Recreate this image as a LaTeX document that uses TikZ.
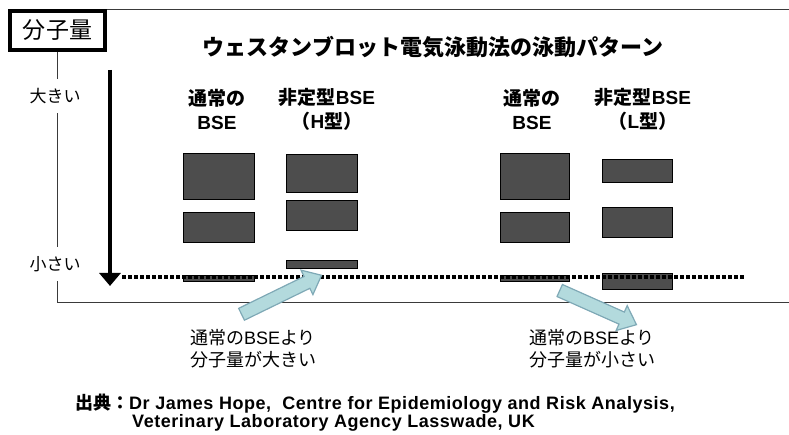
\documentclass[tikz,border=0pt]{standalone}
\usepackage{fontspec}
\setmainfont{Noto Sans CJK JP}
\newfontfamily\latinfont{Liberation Sans}
\newfontfamily\citefont[LetterSpace=3.0]{Liberation Sans}
\usetikzlibrary{arrows.meta,shapes.arrows}
\definecolor{bandgray}{HTML}{4D4D4D}
\definecolor{arrowfill}{HTML}{B3DADD}
\definecolor{arrowline}{HTML}{7FA9B6}
\definecolor{framegray}{HTML}{3A3A3A}
\begin{document}
\begin{tikzpicture}[x=1pt,y=-1pt,
  band/.style={draw=black, line width=0.8pt, fill=bandgray},
  frameline/.style={draw=framegray, line width=1pt},
  sidelabel/.style={fill=white, inner xsep=1pt, inner ysep=9pt, font=\fontsize{17}{18}\selectfont},
  header/.style={align=center, font=\bfseries\fontsize{19}{24}\selectfont},
  blockarrow/.style={single arrow, draw=arrowline, fill=arrowfill, line width=1.2pt,
    minimum width=26pt, single arrow head extend=7pt, single arrow tip angle=80, inner sep=6pt},
  note/.style={align=center, font=\fontsize{18}{22}\selectfont},
  cite/.style={anchor=west, inner sep=0pt, font=\bfseries\fontsize{18}{19}\selectfont}]
\useasboundingbox (0,0) rectangle (789,435);
% frame
\draw[frameline] (789,10) -- (57,10) -- (57,303) -- (789,303);
\node[sidelabel] (big) at (55,96) {大きい};
\node[sidelabel] (small) at (55,264) {小さい};
\node[draw=black, line width=4pt, fill=white, minimum width=95pt, minimum height=39pt,
  inner sep=0pt, font=\fontsize{23}{25}\selectfont] (mw) at (57.5,30.5) {分子量};
% title
\node[font=\bfseries\fontsize{22}{24}\selectfont] (title) at (433,47) {ウェスタンブロット電気泳動法の泳動パターン};
% vertical arrow
\coordinate (atop) at (110,70);
\coordinate (abot) at (110,286);
\draw[line width=4.5pt, -{Triangle[width=21pt,length=13pt]}] (atop) -- (abot);
% headers
\node[header] (h1) at (217,109) {通常の\\{\latinfont\bfseries BSE}};
\node[header] (h2) at (327,109) {非定型{\latinfont\bfseries BSE}\\（{\latinfont\bfseries H}型）};
\node[header] (h3) at (532,109) {通常の\\{\latinfont\bfseries BSE}};
\node[header] (h4) at (643,109) {非定型{\latinfont\bfseries BSE}\\（{\latinfont\bfseries L}型）};
% bands column 1
\draw[band] (183,153) rectangle (254,199);
\draw[band] (183,212) rectangle (254,242);
\draw[band] (183,275) rectangle (254,281);
% column 2
\draw[band] (286,154) rectangle (357,192);
\draw[band] (286,200) rectangle (357,230);
\draw[band] (286,260) rectangle (357,268);
% column 3
\draw[band] (500,153) rectangle (569,199);
\draw[band] (500,212) rectangle (569,242);
\draw[band] (500,275) rectangle (569,281);
% column 4
\draw[band] (602,159) rectangle (672,182);
\draw[band] (602,207) rectangle (672,237);
\draw[band] (602,273) rectangle (672,289);
% dotted reference line
\coordinate (dl) at (122,277);
\coordinate (dr) at (745,277);
\draw[line width=3.5pt, dash pattern=on 4pt off 2pt] (dl) -- (dr);
% block arrows
\node[blockarrow, minimum height=89pt, rotate=26] (arrL) at (278,296.5) {};
\node[blockarrow, minimum height=84pt, rotate=-24] (arrR) at (594.5,306) {};
% notes
\node[note] (nL) at (253,349) {通常の{\latinfont BSE}より\\分子量が大きい};
\node[note] (nR) at (592,349) {通常の{\latinfont BSE}より\\分子量が小さい};
% citation
\node[cite] (c1) at (75,404) {出典：{\citefont\bfseries Dr James Hope,\ \ Centre for Epidemiology and Risk Analysis,}};
\node[cite] (c2) at (132,423) {\citefont\bfseries Veterinary Laboratory Agency Lasswade, UK};
\end{tikzpicture}
\end{document}
